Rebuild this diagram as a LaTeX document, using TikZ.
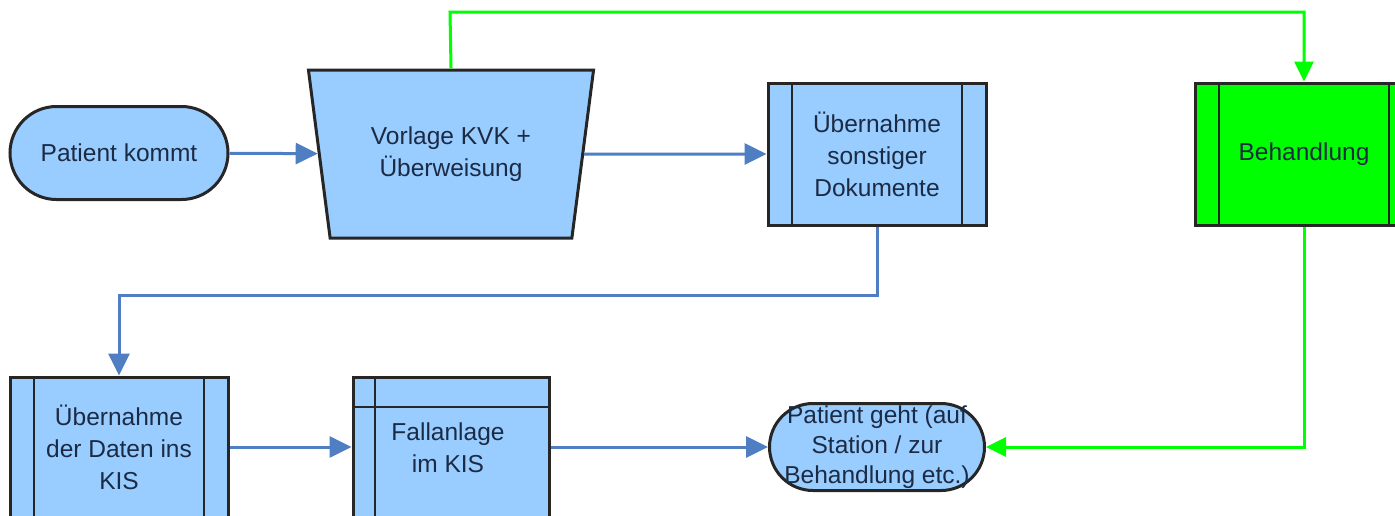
\documentclass[tikz,border=0pt]{standalone}
\usepackage{fontspec}
\setmainfont{Liberation Sans}
\usetikzlibrary{shapes.misc,shapes.geometric,arrows.meta}
\definecolor{lb}{HTML}{99CCFF}
\definecolor{ab}{HTML}{4F7EC2}
\definecolor{gr}{HTML}{00FF00}
\definecolor{tx}{HTML}{1C2B44}
\begin{document}
\begin{tikzpicture}[x=1pt,y=-1pt,
  box/.style={draw=black!85, line width=3pt, fill=lb, inner sep=0pt},
  lbl/.style={text=tx, font=\fontsize{24.5}{32}\selectfont, align=center, inner sep=0pt},
  term/.style={box, rounded rectangle, minimum width=218pt, minimum height=93pt},
  subproc/.style={box, rectangle, minimum width=218pt, minimum height=142pt,
    path picture={
      \draw[line width=2.6pt, black!85] ([xshift=24pt]path picture bounding box.north west) -- ([xshift=24pt]path picture bounding box.south west);
      \draw[line width=2.6pt, black!85] ([xshift=-24pt]path picture bounding box.north east) -- ([xshift=-24pt]path picture bounding box.south east);}},
  blu/.style={draw=ab, line width=3pt, -{Triangle[length=22pt,width=21pt]}},
  grn/.style={draw=gr, line width=3pt, -{Triangle[length=20pt,width=19pt]}}
]
\useasboundingbox (0,0) rectangle (1395,515);
\clip (0,0) rectangle (1395,515);

% nodes
\node[term] (pk) at (119,153) {};
\node[lbl] (pkt) at (pk.center) {Patient kommt};

\node[box, lbl, inner sep=6pt, trapezium, shape border rotate=180, trapezium stretches=true,
      trapezium left angle=77, trapezium right angle=77,
      minimum width=286pt, minimum height=168pt] (vor) at (451,154) {Vorlage KVK +\\Überweisung};

\node[subproc] (ueb) at (877,154) {};
\node[lbl] (uebt) at (ueb.center) {Übernahme\\sonstiger\\Dokumente};

\node[subproc, fill=gr] (beh) at (1304,154) {};
\node[lbl] (beht) at (beh.center) {Behandlung};

\node[subproc, minimum height=140pt] (ued) at (119,447) {};
\node[lbl] (uedt) at (119,447) {Übernahme\\der Daten ins\\KIS};

\node[box, rectangle, minimum width=196pt, minimum height=140pt,
  path picture={
    \draw[line width=2.6pt, black!85] ([xshift=22pt]path picture bounding box.north west) -- ([xshift=22pt]path picture bounding box.south west);
    \draw[line width=2.6pt, black!85] ([yshift=-30pt]path picture bounding box.north west) -- ([yshift=-30pt]path picture bounding box.north east);}] (fal) at (451,447) {};
\node[lbl] (falt) at (448,448) {Fallanlage\\im KIS};

\node[term, minimum width=215pt, minimum height=87pt] (pg) at (877,447) {};
\node[lbl, font=\fontsize{24.5}{30}\selectfont] (pgt) at (pg.center) {Patient geht (auf\\Station / zur\\Behandlung etc.)};

% connectors
\coordinate (gtop) at (450,12);
\coordinate (bend) at (877,295);
\draw[blu] (pk) -- (vor);
\draw[blu] (vor) -- (ueb);
\draw[blu] (ueb.south) -- (bend) -| (ued.north);
\draw[blu] (ued) -- (fal);
\draw[blu] (fal) -- (pg);
\draw[grn] (vor.north) -- (gtop) -| (beh.north);
\draw[grn] (beh.south) |- (pg.east);
\end{tikzpicture}
\end{document}
